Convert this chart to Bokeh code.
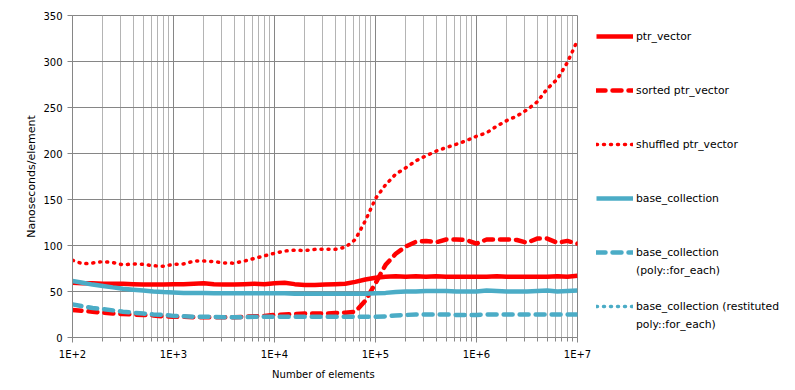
from bokeh.plotting import figure
from bokeh.models import Range1d, FixedTicker, Legend, LegendItem
from bokeh.embed import file_html
from bokeh.resources import INLINE

# ---- data ----
n_elements = [100, 126, 158, 200, 251, 316, 398, 501, 631, 794,
              1000, 1259, 1585, 1995, 2512, 3162, 3981, 5012, 6310, 7943,
              10000, 12589, 15849, 19953, 25119, 31623, 39811, 50119, 63096, 79433,
              100000, 125893, 158489, 199526, 251189, 316228, 398107, 501187, 630957, 794328,
              1000000, 1258925, 1584893, 1995262, 2511886, 3162278, 3981072, 5011872, 6309573, 7943282,
              10000000]

ptr_vector = [59.5, 59, 59, 58.5, 58.5, 58.5, 58, 57.5, 57.5, 57.5,
              58, 58, 58.5, 59, 58, 57.5, 57.5, 58, 58.5, 58,
              59, 59.5, 58, 57, 57, 57.5, 58, 58.5, 60.5, 63,
              65, 66, 66.5, 66, 66.5, 66, 66.5, 66, 66, 66,
              66, 66, 66.5, 66, 66, 66, 66, 66, 66.5, 66,
              67]

sorted_ptr_vector = [30, 29, 28, 27, 26, 25.5, 25, 24.5, 24, 23,
                     22.5, 22.5, 22, 22, 22, 22, 22, 22.5, 23, 23.5,
                     24.5, 25, 25.5, 26, 26, 26, 26.5, 27, 28, 40,
                     59, 79, 91, 99, 104, 105, 103.5, 106.5, 106.5, 106,
                     102, 106.5, 106.5, 106.5, 106, 103, 107.5, 107.5, 103, 105,
                     102]

shuffled_ptr_vector = [84, 80, 81, 82.5, 81.5, 79, 80, 79.5, 78, 77.5,
                       79.5, 80, 83, 83.2, 82.5, 81, 80.8, 83, 86, 88.8,
                       91.5, 94, 95, 94.5, 95.8, 96, 95.8, 98, 106.5, 127,
                       151, 166, 177.5, 184.5, 192, 197.5, 202.5, 206.5, 210, 214,
                       218.7, 222.5, 229.8, 235.8, 240.7, 247.5, 256, 270.3, 280.8, 299,
                       323]

base_collection = [61.5, 59.5, 57.5, 56, 54.5, 53, 52, 51, 50, 49.5,
                   49, 48.5, 48.5, 48.5, 48, 48, 48, 48, 48, 48,
                   48, 48, 47.5, 47.5, 47.5, 47.5, 47.5, 47.5, 47.5, 47.5,
                   48, 48.5, 49.5, 50, 50, 50.5, 50.5, 50.5, 50, 50,
                   50, 51, 50.5, 50, 50, 50, 50.5, 51, 50, 50.5,
                   51]

base_collection_poly = [36, 34, 32, 31, 29.5, 28, 27, 26, 25, 24.5,
                        23.5, 23, 22.5, 22.5, 22.5, 22, 22, 22, 22.5, 22.5,
                        22.5, 22.5, 22.5, 22.5, 22.5, 22.5, 22.5, 22.5, 22.5, 22.5,
                        22.5, 23, 24, 24.5, 25, 25, 25, 25, 24.5, 24.5,
                        24.5, 25, 25, 25, 25, 25, 25, 25, 25, 25,
                        25]

# the restituted series shows no visible values in the picture
base_collection_restituted_x = [100]
base_collection_restituted = [float("nan")]

x_ticks = [1e2, 1e3, 1e4, 1e5, 1e6, 1e7]
x_tick_labels = ["1E+2", "1E+3", "1E+4", "1E+5", "1E+6", "1E+7"]
y_ticks = [0, 50, 100, 150, 200, 250, 300, 350]

# legend labels (first line, optional second line)
series_names = [("ptr_vector", None), ("sorted ptr_vector", None),
                ("shuffled ptr_vector", None), ("base_collection", None),
                ("base_collection", "(poly::for_each)"),
                ("base_collection (restituted", "poly::for_each)")]

RED = "#FF0000"
BLUE = "#4BACC6"
FONT = "DejaVu Sans"

p = figure(frame_width=505, frame_height=322, x_axis_type="log",
           x_range=Range1d(1e2, 1e7), y_range=Range1d(0, 350),
           output_backend="svg", toolbar_location=None,
           min_border_left=72, min_border_right=0,
           min_border_top=15, min_border_bottom=45)
p.background_fill_color = "white"
p.border_fill_color = "white"
p.outline_line_color = "#868686"

# grids
p.xgrid.grid_line_color = "#868686"
p.xgrid.minor_grid_line_color = "#B4B4B4"
p.ygrid.grid_line_color = "#868686"

minor = [m * d for d in x_ticks[:-1] for m in range(2, 10)]
p.xaxis.ticker = FixedTicker(ticks=x_ticks, minor_ticks=minor)
p.xaxis.major_label_overrides = {t: s for t, s in zip(x_ticks, x_tick_labels)}
p.yaxis.ticker = FixedTicker(ticks=y_ticks)

for ax in (p.xaxis, p.yaxis):
    ax.axis_line_color = "#868686"
    ax.major_tick_line_color = "#868686"
    ax.minor_tick_line_color = "#868686"
    ax.major_tick_in = 0
    ax.major_tick_out = 5
    ax.minor_tick_in = 0
    ax.major_label_text_font = FONT
    ax.major_label_text_font_size = "10px"
    ax.major_label_text_color = "black"
    ax.axis_label_text_font = FONT
    ax.axis_label_text_font_size = "10px"
    ax.axis_label_text_font_style = "normal"
    ax.axis_label_text_color = "black"
p.yaxis.axis_label_text_font_size = "11px"
p.xaxis.minor_tick_out = 4
p.yaxis.minor_tick_out = 0
p.yaxis.minor_tick_line_color = None
p.xaxis.major_label_standoff = 6
p.yaxis.major_label_standoff = 5
p.xaxis.axis_label = "Number  of elements"
p.yaxis.axis_label = "Nanoseconds/element"
p.xaxis.axis_label_standoff = 6
p.yaxis.axis_label_standoff = 2

r1 = p.line(n_elements, ptr_vector, line_color=RED, line_width=4.5)
r2 = p.line(n_elements, sorted_ptr_vector, line_color=RED, line_width=4.5,
            line_dash="9 7", line_cap="round")
r3 = p.line(n_elements, shuffled_ptr_vector, line_color=RED, line_width=3.5,
            line_dash="1 6", line_cap="round")
r6 = p.line(base_collection_restituted_x, base_collection_restituted, line_color=BLUE,
            line_width=3.5, line_dash="1 6", line_cap="round")
r4 = p.line(n_elements, base_collection, line_color=BLUE, line_width=4.5)
r5 = p.line(n_elements, base_collection_poly, line_color=BLUE, line_width=4.5,
            line_dash="9 7", line_cap="round")
# renderer without data: used for legend rows that carry only text
blank = p.line([], [], line_color=None)

# legend laid out on an 18px row grid: each series takes 3 rows
items = []
for (first, second), r in zip(series_names, [r1, r2, r3, r4, r5, r6]):
    items.append(LegendItem(label=first, renderers=[r]))
    items.append(LegendItem(label=second if second else " ", renderers=[blank]))
    items.append(LegendItem(label=" ", renderers=[blank]))
items = items[:-1]

legend = Legend(items=items, location=(19, 6), orientation="vertical",
                glyph_width=37, glyph_height=14, label_height=14,
                label_standoff=3, spacing=4, padding=0, margin=0,
                border_line_color=None, background_fill_alpha=0,
                label_text_font=FONT, label_text_font_size="10.8px",
                label_text_color="black")
p.add_layout(legend, "right")

open("out.html", "w").write(file_html(p, INLINE))
